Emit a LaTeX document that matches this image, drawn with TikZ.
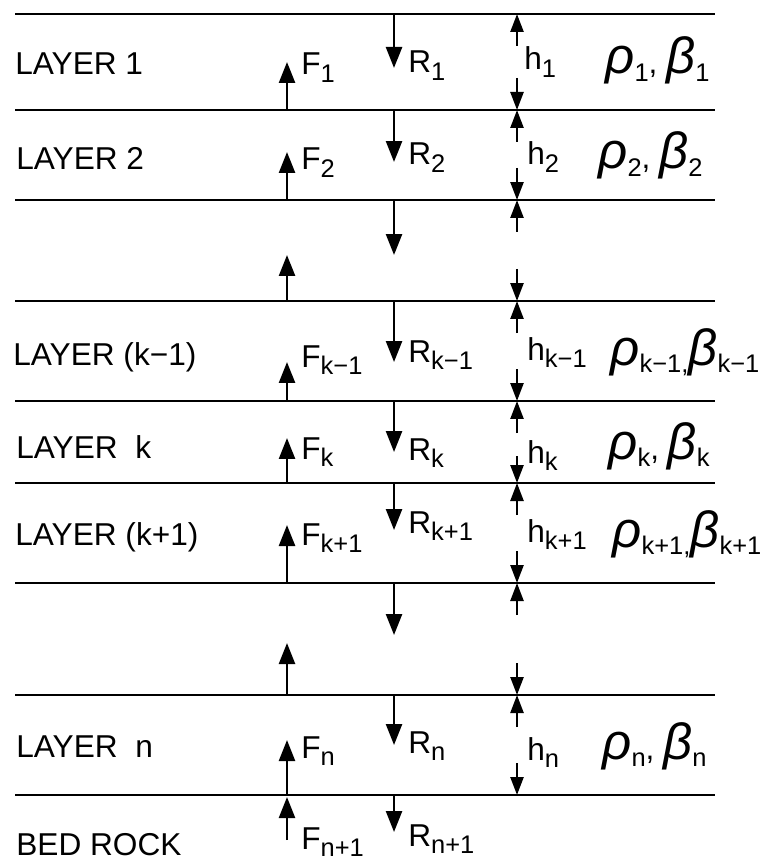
\documentclass[tikz,border=0pt]{standalone}
\usepackage{fontspec}
\setmainfont{Liberation Sans}
\usetikzlibrary{arrows.meta}
\newcommand{\lowsub}[1]{\raisebox{-4.5pt}{\fontsize{14.5}{14.5}\selectfont #1}}
\newcommand{\grk}[1]{{\fontsize{29}{29}\selectfont\itshape #1}}

\begin{document}
\begin{tikzpicture}[
    x=0.02cm, y=-0.02cm,
    font=\fontsize{18}{21}\selectfont,
    interface/.style={line width=1.5pt},
    flux/.style={-{Triangle[length=4.2mm,width=3.2mm]}, line width=1.4pt},
    gauge/.style={-{Triangle[length=3.6mm,width=2.6mm]}, line width=1.4pt},
    txt/.style={anchor=base west, inner sep=0pt}
]
\useasboundingbox (0,0) rectangle (768,861);

% Interfaces
\draw[interface] (15,14) -- (715,14);
\draw[interface] (15,110) -- (715,110);
\draw[interface] (15,200) -- (715,200);
\draw[interface] (15,301) -- (715,301);
\draw[interface] (15,401) -- (715,401);
\draw[interface] (15,483) -- (715,483);
\draw[interface] (15,583) -- (715,583);
\draw[interface] (15,695) -- (715,695);
\draw[interface] (15,795) -- (715,795);

% Layer names
\node[txt] (lay1) at (15,75) {LAYER 1};
\node[txt] (lay2) at (16,170) {LAYER 2};
\node[txt] (layk1) at (13,365) {LAYER (k−1)};
\node[txt] (layk) at (16,458) {LAYER~~k};
\node[txt] (layk2) at (15,545) {LAYER (k+1)};
\node[txt] (layn) at (16,757) {LAYER~~n};
\node[txt] (bed) at (16,855) {BED ROCK};

% Upgoing fluxes
\draw[flux] (287,110) -- (287,62);
\draw[flux] (287,200) -- (287,152);
\draw[flux] (287,301) -- (287,255);
\draw[flux] (287,401) -- (287,362);
\draw[flux] (287,483) -- (287,438);
\draw[flux] (287,583) -- (287,525);
\draw[flux] (287,695) -- (287,643);
\draw[flux] (287,795) -- (287,740);
\draw[flux] (287,840) -- (287,797);
\node[txt] (f1) at (301,75) {F\lowsub{1}};
\node[txt] (f2) at (301,170) {F\lowsub{2}};
\node[txt] (fk1) at (301,367) {F\lowsub{k−1}};
\node[txt] (fk) at (301,459) {F\lowsub{k}};
\node[txt] (fk2) at (301,545) {F\lowsub{k+1}};
\node[txt] (fn) at (301,758) {F\lowsub{n}};
\node[txt] (fn1) at (301,849) {F\lowsub{n+1}};

% Downgoing fluxes
\draw[flux] (394,14) -- (394,68);
\draw[flux] (394,110) -- (394,162);
\draw[flux] (394,200) -- (394,255);
\draw[flux] (394,301) -- (394,362);
\draw[flux] (394,401) -- (394,452);
\draw[flux] (394,483) -- (394,530);
\draw[flux] (394,583) -- (394,635);
\draw[flux] (394,695) -- (394,745);
\draw[flux] (394,795) -- (394,832);
\node[txt] (r1) at (408,73) {R\lowsub{1}};
\node[txt] (r2) at (408,165) {R\lowsub{2}};
\node[txt] (rk1) at (408,362) {R\lowsub{k−1}};
\node[txt] (rk) at (408,460) {R\lowsub{k}};
\node[txt] (rk2) at (408,533) {R\lowsub{k+1}};
\node[txt] (rn) at (408,753) {R\lowsub{n}};
\node[txt] (rn1) at (408,846) {R\lowsub{n+1}};

% Thickness marks
\draw[gauge] (517,46) -- (517,14);   \draw[gauge] (517,78) -- (517,110);
\draw[gauge] (517,142) -- (517,110); \draw[gauge] (517,168) -- (517,200);
\draw[gauge] (517,232) -- (517,200); \draw[gauge] (517,269) -- (517,301);
\draw[gauge] (517,333) -- (517,301); \draw[gauge] (517,369) -- (517,401);
\draw[gauge] (517,433) -- (517,401); \draw[gauge] (517,456) -- (517,483);
\draw[gauge] (517,515) -- (517,483); \draw[gauge] (517,551) -- (517,583);
\draw[gauge] (517,615) -- (517,583); \draw[gauge] (517,663) -- (517,695);
\draw[gauge] (517,727) -- (517,695); \draw[gauge] (517,763) -- (517,795);
\node[txt] (h1) at (524,70) {h\lowsub{1}};
\node[txt] (h2) at (527,165) {h\lowsub{2}};
\node[txt] (hk1) at (527,360) {h\lowsub{k−1}};
\node[txt] (hk) at (527,463) {h\lowsub{k}};
\node[txt] (hk2) at (527,542) {h\lowsub{k+1}};
\node[txt] (hn) at (527,760) {h\lowsub{n}};

% Density and velocity
\node[txt] (p1) at (605,74) {\grk{ρ}\lowsub{1}, \grk{β}\lowsub{1}};
\node[txt] (p2) at (598,169) {\grk{ρ}\lowsub{2}, \grk{β}\lowsub{2}};
\node[txt] (pk1) at (610,365) {\grk{ρ}\lowsub{k−1,}\grk{β}\lowsub{k−1}};
\node[txt] (pk) at (608,459) {\grk{ρ}\lowsub{k}, \grk{β}\lowsub{k}};
\node[txt] (pk2) at (612,547) {\grk{ρ}\lowsub{k+1,}\grk{β}\lowsub{k+1}};
\node[txt] (pn) at (602,759) {\grk{ρ}\lowsub{n}, \grk{β}\lowsub{n}};

\end{tikzpicture}
\end{document}
